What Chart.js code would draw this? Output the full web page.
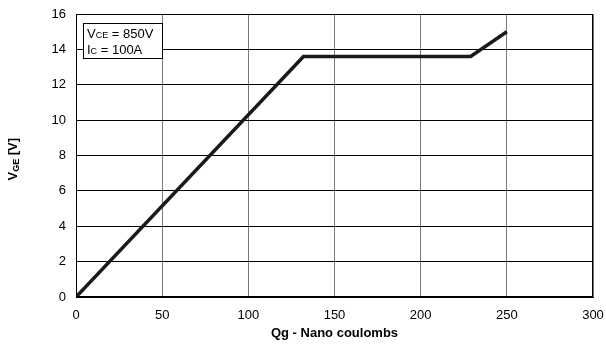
<!DOCTYPE html>
<html>
<head>
<meta charset="utf-8">
<script src="https://cdn.jsdelivr.net/npm/chart.js@4/dist/chart.umd.min.js"></script>
<style>
  html, body { margin: 0; padding: 0; background: #fff; }
  #wrap { width: 606px; height: 344px; }
</style>
</head>
<body>
<div id="wrap"><canvas id="chart"></canvas></div>
<script>
  // Gate charge curve data (Qg in nC, VGE in V)
  const qgValues = [0, 132, 229, 250];
  const vgeValues = [0, 13.6, 13.6, 15];
  const xTicks = [0, 50, 100, 150, 200, 250, 300];
  const yTicks = [0, 2, 4, 6, 8, 10, 12, 14, 16];

  const FONT = '"Liberation Sans", Arial, sans-serif';

  // text with a small subscript part, e.g. V + GE
  function drawSub(ctx, x, y, main, sub, rest, size, bold) {
    const w = bold ? 'bold ' : '';
    ctx.font = w + size + 'px ' + FONT;
    ctx.fillText(main, x, y);
    x += ctx.measureText(main).width;
    ctx.font = w + Math.round(size * 0.72) + 'px ' + FONT;
    ctx.fillText(sub, x, y + (bold ? 2 : 0));
    x += ctx.measureText(sub).width;
    ctx.font = w + size + 'px ' + FONT;
    ctx.fillText(rest, x, y);
  }

  const annotations = {
    id: 'annotations',
    afterDraw(chart) {
      const ctx = chart.ctx;
      const a = chart.chartArea;
      ctx.save();
      // frame
      ctx.strokeStyle = '#000';
      ctx.lineWidth = 1;
      ctx.strokeRect(a.left + 0.5, a.top + 0.5, a.right - a.left - 1, a.bottom - a.top - 1);

      // condition box
      ctx.fillStyle = '#fff';
      ctx.fillRect(83, 23, 79, 35);
      ctx.strokeRect(83.5, 23.5, 79, 35);
      ctx.fillStyle = '#000';
      ctx.textBaseline = 'alphabetic';
      ctx.textAlign = 'left';
      drawSub(ctx, 87, 38, 'V', 'CE', ' = 850V', 13, false);
      drawSub(ctx, 87, 54, 'I', 'C', ' = 100A', 13, false);

      // x axis title
      ctx.font = 'bold 13px ' + FONT;
      ctx.textAlign = 'center';
      ctx.fillText('Qg - Nano coulombs', (a.left + a.right) / 2, 337);

      // y axis title, rotated
      ctx.translate(17, (a.top + a.bottom) / 2);
      ctx.rotate(-Math.PI / 2);
      ctx.textAlign = 'left';
      drawSub(ctx, -25, 0, 'V', 'GE', ' [V]', 13, true);
      ctx.restore();
    }
  };

  new Chart(document.getElementById('chart'), {
    type: 'line',
    data: {
      datasets: [{
        data: qgValues.map(function (q, i) { return { x: q, y: vgeValues[i] }; }),
        borderColor: '#1a1a1a',
        borderWidth: 3.5,
        pointRadius: 0,
        tension: 0,
        fill: false
      }]
    },
    options: {
      responsive: true,
      maintainAspectRatio: false,
      animation: false,
      layout: { padding: { top: 14, right: 13, left: 0, bottom: 0 } },
      plugins: {
        legend: { display: false },
        tooltip: { enabled: false }
      },
      scales: {
        x: {
          type: 'linear',
          min: 0,
          max: 300,
          afterFit(scale) { scale.height = 47; scale.paddingRight = 0; },
          afterBuildTicks(scale) { scale.ticks = xTicks.map(function (v) { return { value: v }; }); },
          grid: { color: '#7a7a7a', lineWidth: 1, drawTicks: false },
          border: { color: '#000' },
          ticks: { padding: 11, color: '#000', font: { size: 13, family: FONT } }
        },
        y: {
          min: 0,
          max: 16,
          afterFit(scale) { scale.width = 76; scale.paddingTop = 0; },
          afterBuildTicks(scale) { scale.ticks = yTicks.map(function (v) { return { value: v }; }); },
          grid: { color: '#000', lineWidth: 1, drawTicks: false },
          border: { color: '#000' },
          ticks: { padding: 10, color: '#000', font: { size: 13, family: FONT } }
        }
      }
    },
    plugins: [annotations]
  });
</script>
</body>
</html>
